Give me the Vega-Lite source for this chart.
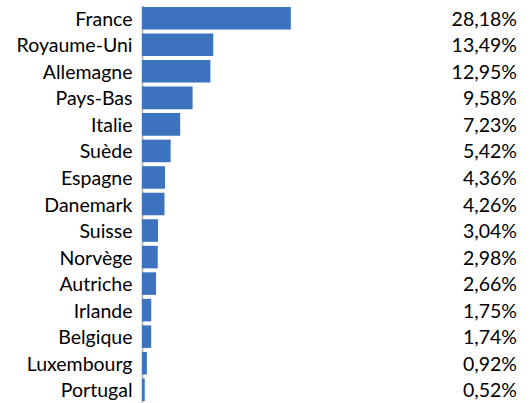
{
  "$schema": "https://vega.github.io/schema/vega-lite/v6.json",
  "autosize": {"type": "none"},
  "padding": {"left": 142, "top": 5, "right": 0, "bottom": 0},
  "width": 390,
  "height": 398,
  "background": "white",
  "data": {"values": [
    {"pays": "France", "part": 28.18, "label": "28,18%"},
    {"pays": "Royaume-Uni", "part": 13.49, "label": "13,49%"},
    {"pays": "Allemagne", "part": 12.95, "label": "12,95%"},
    {"pays": "Pays-Bas", "part": 9.58, "label": "9,58%"},
    {"pays": "Italie", "part": 7.23, "label": "7,23%"},
    {"pays": "Suède", "part": 5.42, "label": "5,42%"},
    {"pays": "Espagne", "part": 4.36, "label": "4,36%"},
    {"pays": "Danemark", "part": 4.26, "label": "4,26%"},
    {"pays": "Suisse", "part": 3.04, "label": "3,04%"},
    {"pays": "Norvège", "part": 2.98, "label": "2,98%"},
    {"pays": "Autriche", "part": 2.66, "label": "2,66%"},
    {"pays": "Irlande", "part": 1.75, "label": "1,75%"},
    {"pays": "Belgique", "part": 1.74, "label": "1,74%"},
    {"pays": "Luxembourg", "part": 0.92, "label": "0,92%"},
    {"pays": "Portugal", "part": 0.52, "label": "0,52%"}
  ]},
  "encoding": {
    "y": {
      "field": "pays", "type": "nominal", "sort": null,
      "scale": {"paddingInner": 0.15, "paddingOuter": 0.075},
      "axis": {
        "title": null, "ticks": false, "grid": false,
        "domainColor": "#bfbfbf", "domainWidth": 2,
        "labelFont": "Lato", "labelFontSize": 19.5,
        "labelColor": "#000000", "labelPadding": 10, "labelOffset": 1.5
      }
    }
  },
  "layer": [
    {
      "mark": {"type": "bar", "color": "#3C72BE"},
      "encoding": {
        "x": {"field": "part", "type": "quantitative",
              "scale": {"domain": [0, 73.86], "nice": false, "zero": true},
              "axis": null}
      }
    },
    {
      "mark": {"type": "text", "align": "right", "baseline": "middle", "dy": 1.5,
               "font": "Lato", "fontSize": 19.5, "color": "#000000"},
      "encoding": {
        "x": {"datum": 71.0, "type": "quantitative"},
        "text": {"field": "label"}
      }
    }
  ],
  "config": {"view": {"stroke": null}}
}
